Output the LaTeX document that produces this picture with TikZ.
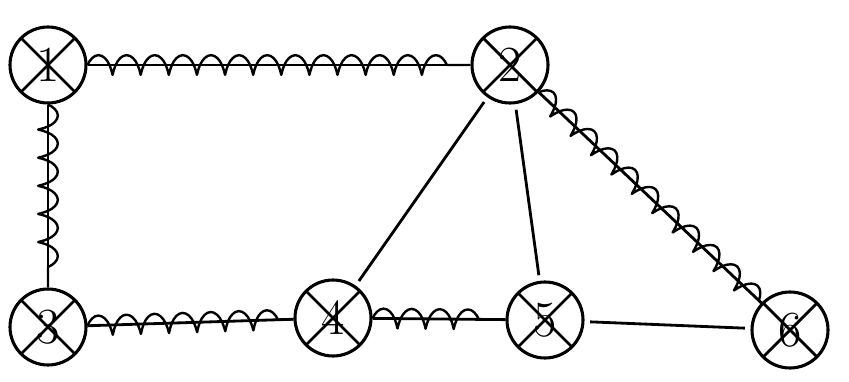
\documentclass[tikz,border=0pt]{standalone}
\usepackage{tikz}
\usetikzlibrary{decorations.pathmorphing}

\begin{document}
\begin{tikzpicture}[vtx/.style={circle, draw, line width=2.2pt, minimum size=1.9cm, inner sep=0pt, font=\fontsize{36}{36}\selectfont,
            path picture={\draw[line width=2pt] (path picture bounding box.north west) -- (path picture bounding box.south east);
                \draw[line width=2pt] (path picture bounding box.north east) -- (path picture bounding box.south west);}},
        treeedge/.style={line width=2pt, postaction={draw, line width=1.7pt, line join=round, decorate, decoration={coil, aspect=0.4, segment length=20pt, amplitude=7pt}}},
        plain/.style={line width=2pt, shorten <=4pt, shorten >=4pt}]
            \useasboundingbox (0,0) rectangle (21.225,9.525);
            \node[vtx] (v1) at (1.2,7.9) {1};
            \node[vtx] (v2) at (12.75,7.9) {2};
            \node[vtx] (v3) at (1.2,1.35) {3};
            \node[vtx] (v4) at (8.325,1.575) {4};
            \node[vtx] (v5) at (13.625,1.525) {5};
            \node[vtx] (v6) at (19.75,1.275) {6};
            % tree edges
            \foreach \a/\b in {v1/v2, v1/v3, v3/v4, v4/v5, v2/v6} {
                \draw[treeedge] (\a) -- (\b);
            }
            % other edges
            \foreach \a/\b in {v2/v4, v2/v5, v5/v6} {
                \draw[plain] (\a) -- (\b);
            }
        \end{tikzpicture}
\end{document}
